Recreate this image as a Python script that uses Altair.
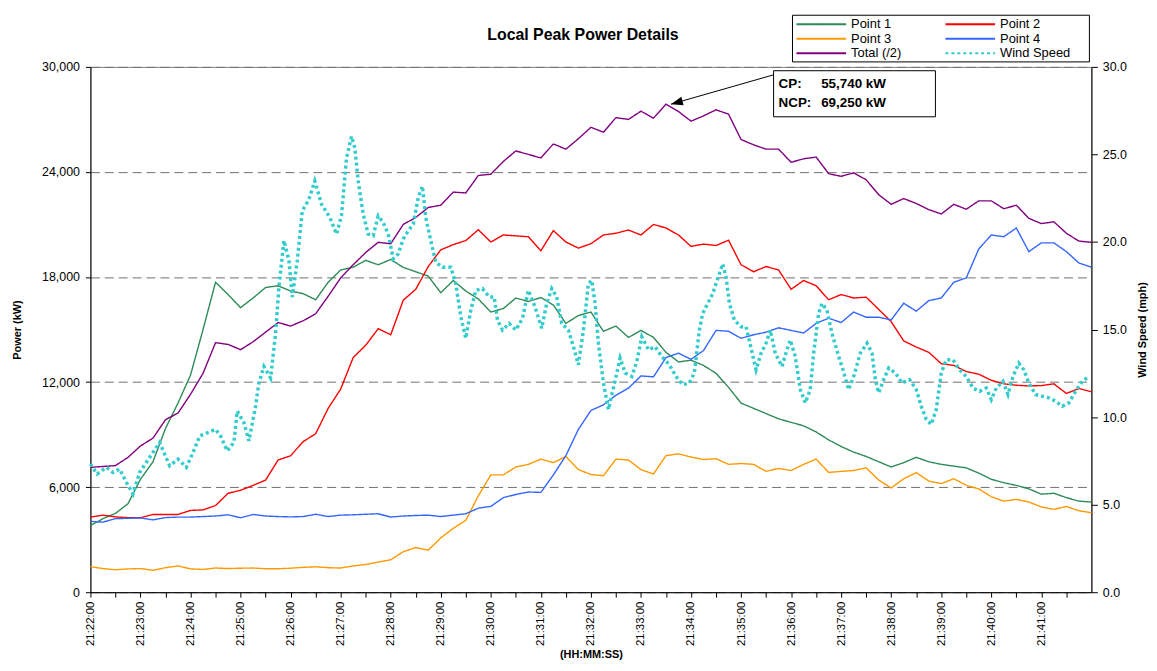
import altair as alt
import pandas as pd

# ---------------- data ----------------
TITLE = "Local Peak Power Details"
SERIES = ["Point 1", "Point 2", "Point 3", "Point 4", "Total (/2)", "Wind Speed"]
COLORS = ["#2E8B57", "#FF0000", "#FF9900", "#3366FF", "#800080", "#33CCCC"]
DASHES = [[1, 0], [1, 0], [1, 0], [1, 0], [1, 0], [3, 3]]

# power samples every 15 s from 21:22:00 to 21:42:00
STEP_SECONDS = 15
point1 = [3800, 4200, 4500, 5050, 6450, 7450, 9350, 10800, 12400, 15000,
          17700, 17000, 16250, 16800, 17400, 17500, 17200, 17050, 16700, 17700,
          18400, 18560, 18950, 18700, 19000, 18550, 18300, 18050, 17100, 17800,
          17200, 16750, 16000, 16200, 16800, 16600, 16830, 16400, 15350, 15800,
          16000, 14900, 15200, 14550, 14950, 14550, 13700, 13150, 13250, 12950,
          12500, 11700, 10800, 10500, 10200, 9900, 9700, 9500, 9150, 8700,
          8320, 8000, 7750, 7450, 7150, 7400, 7700, 7450, 7300, 7200,
          7100, 6800, 6450, 6250, 6100, 5900, 5600, 5650, 5400, 5200, 5150]
point2 = [4290, 4400, 4300, 4260, 4250, 4440, 4440, 4440, 4670, 4700,
          4950, 5650, 5820, 6100, 6400, 7550, 7790, 8600, 9050, 10500,
          11600, 13400, 14100, 15050, 14700, 16670, 17300, 18600, 19550, 19850,
          20080, 20700, 20000, 20400, 20350, 20300, 19500, 20650, 20000, 19650,
          19900, 20400, 20500, 20680, 20400, 21000, 20800, 20400, 19750, 19880,
          19800, 20100, 18700, 18300, 18600, 18400, 17300, 17800, 17500, 16700,
          17000, 16800, 16850, 16150, 15450, 14350, 14000, 13700, 13050, 12950,
          12600, 12450, 12100, 11900, 11820, 11780, 11800, 11900, 11350, 11630, 11450]
point3 = [1460, 1350, 1280, 1330, 1350, 1250, 1400, 1500, 1330, 1300,
          1380, 1350, 1370, 1380, 1340, 1340, 1370, 1420, 1450, 1400,
          1380, 1500, 1580, 1720, 1850, 2310, 2550, 2400, 3100, 3650,
          4100, 5500, 6700, 6700, 7150, 7300, 7600, 7400, 7750, 7000,
          6720, 6650, 7600, 7550, 7000, 6750, 7800, 7900, 7720, 7580,
          7620, 7300, 7350, 7300, 6900, 7070, 6950, 7300, 7600, 6840,
          6900, 6950, 7100, 6400, 5950, 6480, 6830, 6350, 6200, 6480,
          6100, 5900, 5450, 5200, 5300, 5150, 4870, 4730, 4900, 4650, 4540]
point4 = [4040, 4000, 4200, 4220, 4240, 4130, 4260, 4290, 4290, 4320,
          4350, 4420, 4250, 4440, 4350, 4320, 4300, 4320, 4450, 4320,
          4400, 4420, 4450, 4480, 4290, 4350, 4380, 4400, 4320, 4400,
          4480, 4800, 4900, 5400, 5580, 5720, 5700, 6700, 7800, 9300,
          10380, 10700, 11250, 11650, 12350, 12300, 13400, 13650, 13300, 13800,
          14950, 14900, 14500, 14700, 14850, 15100, 14950, 14800, 15350, 15650,
          15400, 16000, 15700, 15700, 15550, 16500, 16050, 16650, 16800, 17700,
          17950, 19600, 20400, 20300, 20800, 19450, 19950, 19950, 19450, 18800, 18560]
total_half = [7130, 7180, 7230, 7700, 8350, 8800, 9850, 10230, 11300, 12500,
              14250, 14150, 13850, 14300, 14850, 15400, 15200, 15500, 15900, 16900,
              17950, 18700, 19400, 19980, 19900, 21000, 21400, 21970, 22100, 22850,
              22800, 23800, 23870, 24600, 25200, 25000, 24800, 25600, 25300, 25900,
              26550, 26270, 27100, 27000, 27470, 27070, 27870, 27450, 26900, 27200,
              27550, 27300, 25850, 25550, 25300, 25300, 24550, 24750, 24850, 23900,
              23750, 23950, 23550, 22700, 22150, 22480, 22200, 21850, 21600, 22150,
              21870, 22350, 22350, 21900, 22100, 21350, 21050, 21150, 20500, 20050, 19980]

# wind speed readings: (seconds after 21:22:00, mph)
WIND_READINGS = [
    (0, 7.32), (8, 6.75), (19, 7.13), (27, 6.84), (35, 7.03), (43, 6.28), (51, 5.61),
    (59, 6.84), (71, 7.70), (83, 8.55), (95, 7.22), (105, 7.60), (115, 7.13), (123, 7.98),
    (131, 8.92), (150, 9.30), (156, 8.92), (164, 8.07), (172, 8.55), (176, 10.34),
    (184, 9.68), (190, 8.64), (198, 10.62), (202, 11.95), (208, 12.89), (216, 12.23),
    (222, 14.78), (226, 17.43), (232, 20.08), (238, 18.94), (242, 16.86), (248, 18.94),
    (254, 21.78), (262, 22.44), (269, 23.48), (277, 22.16), (287, 21.40), (295, 20.45),
    (301, 21.50), (307, 24.80), (313, 26.03), (317, 25.37), (321, 23.48), (327, 21.59),
    (333, 20.45), (339, 20.36), (345, 21.49), (351, 21.11), (357, 20.45), (363, 19.04),
    (369, 19.32), (375, 20.17), (381, 20.64), (387, 21.02), (393, 22.53), (398, 23.19),
    (402, 21.40), (408, 20.08), (414, 18.85), (422, 18.56), (432, 18.56), (438, 17.62),
    (444, 15.73), (450, 14.50), (456, 16.10), (462, 17.24), (470, 17.34), (478, 16.86),
    (484, 16.86), (488, 15.54), (494, 14.97), (502, 15.35), (510, 14.97), (518, 15.64),
    (525, 17.24), (533, 16.29), (541, 15.07), (547, 16.49), (553, 17.34), (559, 16.86),
    (565, 15.35), (573, 14.97), (579, 14.02), (585, 12.99), (591, 14.97), (597, 17.62),
    (601, 17.81), (605, 16.49), (609, 14.22), (615, 11.95), (621, 10.43), (627, 11.66),
    (635, 13.37), (641, 12.52), (649, 12.32), (655, 13.17), (661, 14.59), (669, 13.84),
    (677, 14.02), (685, 13.46), (694, 12.99), (702, 12.32), (710, 11.85), (718, 11.95),
    (724, 12.52), (730, 14.97), (734, 15.92), (740, 16.49), (746, 17.05), (752, 17.90),
    (758, 18.75), (762, 17.99), (766, 16.49), (772, 15.54), (780, 15.16), (786, 15.16),
    (792, 13.93), (798, 12.70), (804, 13.65), (810, 14.22), (815, 14.97), (821, 13.65),
    (829, 12.89), (835, 13.84), (839, 14.40), (845, 13.46), (851, 11.57), (857, 10.81),
    (863, 11.57), (867, 13.65), (873, 15.92), (877, 16.49), (883, 16.10), (889, 14.78),
    (897, 13.46), (901, 12.89), (909, 11.57), (915, 12.32), (923, 13.65), (931, 14.22),
    (937, 13.65), (941, 12.14), (945, 11.38), (951, 12.14), (957, 12.80), (965, 12.52),
    (973, 11.95), (982, 12.14), (990, 11.57), (996, 10.62), (1002, 9.87), (1008, 9.58),
    (1014, 10.43), (1020, 12.52), (1026, 13.27), (1034, 13.27), (1042, 12.70), (1050, 12.32),
    (1058, 11.66), (1066, 11.47), (1074, 11.66), (1080, 11.00), (1086, 11.66), (1094, 12.04),
    (1100, 11.29), (1106, 12.32), (1113, 13.08), (1119, 12.70), (1125, 11.95), (1133, 11.29),
    (1141, 11.19), (1149, 11.10), (1157, 10.91), (1165, 10.62), (1173, 10.81), (1181, 11.47),
    (1189, 12.04), (1197, 12.32),
]

# annotation (peak callout)
CALLOUT_LABELS = ["CP:", "NCP:"]
CALLOUT_VALUES = ["55,740 kW", "69,250 kW"]
CALLOUT_ROW_KW = [29040, 27960]
CALLOUT_LABEL_TIME = "21:35:45"
CALLOUT_VALUE_TIME = "21:36:36"
BOX_TIMES = ["21:35:39", "21:38:53"]
BOX_KW = [27150, 29780]
ARROW_TAIL = ("21:35:39", 29546)
ARROW_TIP = ("21:33:36", 27870)

DAY = "2024-01-01T"


def clock(sec):
    return f"{DAY}21:{22 + sec // 60:02d}:{sec % 60:02d}"


def dt(sec):
    return alt.DateTime(year=2024, month=1, date=1, hours=21,
                        minutes=22 + sec // 60, seconds=sec % 60)


# ---------------- tables ----------------
power_series = [point1, point2, point3, point4, total_half]
rows = []
for name, vals in zip(SERIES[:5], power_series):
    for i, v in enumerate(vals):
        rows.append({"time": clock(i * STEP_SECONDS), "series": name, "kw": v})
power_df = pd.DataFrame(rows)

wind_df = pd.DataFrame({
    "time": [clock(s) for s, _ in WIND_READINGS],
    "series": "Wind Speed",
    "mph": [m for _, m in WIND_READINGS],
})

box_df = pd.DataFrame({"t0": [DAY + BOX_TIMES[0]], "t1": [DAY + BOX_TIMES[1]],
                       "k0": [BOX_KW[0]], "k1": [BOX_KW[1]]})
label_df = pd.DataFrame({"time": DAY + CALLOUT_LABEL_TIME, "kw": CALLOUT_ROW_KW,
                         "txt": CALLOUT_LABELS})
value_df = pd.DataFrame({"time": DAY + CALLOUT_VALUE_TIME, "kw": CALLOUT_ROW_KW,
                         "txt": CALLOUT_VALUES})
arrow_df = pd.DataFrame({"t0": [DAY + ARROW_TAIL[0]], "k0": [ARROW_TAIL[1]],
                         "t1": [DAY + ARROW_TIP[0]], "k1": [ARROW_TIP[1]]})
title_df = pd.DataFrame({"txt": [TITLE]})
legend_df = pd.DataFrame({"series": SERIES, "idx": list(range(len(SERIES)))})

# ---------------- scales / axes ----------------
x_scale = alt.Scale(domain=[dt(0), dt(1200)], nice=False)
x_axis = alt.Axis(
    values=[dt(s) for s in range(0, 1200, 30)],
    labelExpr="seconds(datum.value) == 0 ? timeFormat(datum.value, '%H:%M:%S') : ''",
    labelAngle=270, labelFontSize=11.5, labelPadding=4, labelOverlap=False,
    labelFlush=False, tickSize=5, grid=False,
    title="(HH:MM:SS)", titleFontSize=11, titleFontWeight="bold",
    titleX=504, titleY=66, titleAlign="center", titleBaseline="alphabetic",
)
kw_scale = alt.Scale(domain=[0, 30000], nice=False)
kw_axis = alt.Axis(
    values=[0, 6000, 12000, 18000, 24000, 30000], format=",d",
    grid=True, gridDash=[9, 5], gridColor="#707070", gridWidth=1,
    labelFontSize=12.5, labelPadding=6, tickSize=5,
    title="Power (kW)", titleFontSize=11, titleFontWeight="bold",
    titleAngle=270, titleX=-73, titleY=264.5, titleAlign="center", titleBaseline="middle",
)
mph_axis = alt.Axis(
    orient="right", values=[0, 5, 10, 15, 20, 25, 30], format=".1f",
    grid=False, labelFontSize=12.5, labelPadding=5, tickSize=6,
    title="Wind Speed (mph)", titleFontSize=11, titleFontWeight="bold",
    titleAngle=270, titleX=51, titleY=264.5, titleAlign="center", titleBaseline="middle",
)

color_enc = alt.Color("series:N", scale=alt.Scale(domain=SERIES, range=COLORS), legend=None)
dash_enc = alt.StrokeDash("series:N", scale=alt.Scale(domain=SERIES, range=DASHES), legend=None)


def X(field):
    return alt.X(field, scale=x_scale, axis=x_axis)


# ---------------- layers ----------------
power = alt.Chart(power_df).mark_line(strokeWidth=1.4).encode(
    x=X("time:T"),
    y=alt.Y("kw:Q", scale=kw_scale, axis=kw_axis),
    color=color_enc, strokeDash=dash_enc,
)

wind = alt.Chart(wind_df).mark_line(strokeWidth=3.5, strokeCap="butt").encode(
    x=X("time:T"),
    y=alt.Y("mph:Q", scale=alt.Scale(domain=[0, 30], nice=False), axis=mph_axis),
    color=color_enc, strokeDash=dash_enc,
)

box = alt.Chart(box_df).mark_rect(fill="white", stroke="black", strokeWidth=1).encode(
    x=X("t0:T"), x2="t1:T",
    y=alt.Y("k0:Q", scale=kw_scale, axis=None), y2="k1:Q",
)

text_style = dict(align="left", baseline="middle", fontSize=13.5, fontWeight="bold", color="black")
labels = alt.Chart(label_df).mark_text(**text_style).encode(
    x=X("time:T"), y=alt.Y("kw:Q", scale=kw_scale, axis=None), text="txt:N",
)
values = alt.Chart(value_df).mark_text(**text_style).encode(
    x=X("time:T"), y=alt.Y("kw:Q", scale=kw_scale, axis=None), text="txt:N",
)

arrow_line = alt.Chart(arrow_df).mark_rule(color="black", strokeWidth=1).encode(
    x=X("t0:T"), x2="t1:T",
    y=alt.Y("k0:Q", scale=kw_scale, axis=None), y2="k1:Q",
)
arrow_head = alt.Chart(arrow_df).mark_point(
    shape="M0,0L1,-0.36L1,0.36Z", size=576, filled=True, color="black",
    opacity=1, angle=344.5, strokeWidth=0,
).encode(
    x=X("t1:T"), y=alt.Y("k1:Q", scale=kw_scale, axis=None),
)

title = alt.Chart(title_df).mark_text(
    fontSize=16, fontWeight="bold", align="center", baseline="middle", color="black"
).encode(text="txt:N", x=alt.value(496), y=alt.value(-32))

# hand-built legend box (two columns, three rows) above the plot
legend_box = alt.Chart(title_df).mark_rect(
    fill="white", stroke="black", strokeWidth=1
).encode(x=alt.value(707), x2=alt.value(1006), y=alt.value(-52), y2=alt.value(-5))

legend_pos = alt.Chart(legend_df).transform_calculate(
    lx0="711 + 150 * (datum.idx % 2)",
    lx1="761 + 150 * (datum.idx % 2)",
    tx="766 + 150 * (datum.idx % 2)",
    ly="-43 + 14.6 * floor(datum.idx / 2)",
)
legend_lines = legend_pos.mark_rule(strokeWidth=2).encode(
    x=alt.X("lx0:Q", scale=None, axis=None), x2="lx1:Q",
    y=alt.Y("ly:Q", scale=None, axis=None),
    color=color_enc, strokeDash=dash_enc,
)
legend_text = legend_pos.mark_text(
    align="left", baseline="middle", fontSize=13, color="black"
).encode(
    x=alt.X("tx:Q", scale=None, axis=None),
    y=alt.Y("ly:Q", scale=None, axis=None),
    text="series:N",
)

chart = alt.layer(
    power, wind, box, arrow_line, arrow_head, labels, values, title,
    legend_box, legend_lines, legend_text,
).resolve_scale(
    y="independent"
).properties(
    width=1008, height=529,
    autosize=alt.AutoSizeParams(type="none"),
    padding={"left": 83, "top": 57, "right": 58, "bottom": 68},
).configure(
    font="Liberation Sans",
).configure_view(
    stroke="#808080", strokeWidth=1,
).configure_axis(
    domainColor="black", tickColor="black", labelColor="black", titleColor="black",
)

chart.save("out.html", embed_options={"renderer": "svg", "actions": False})
